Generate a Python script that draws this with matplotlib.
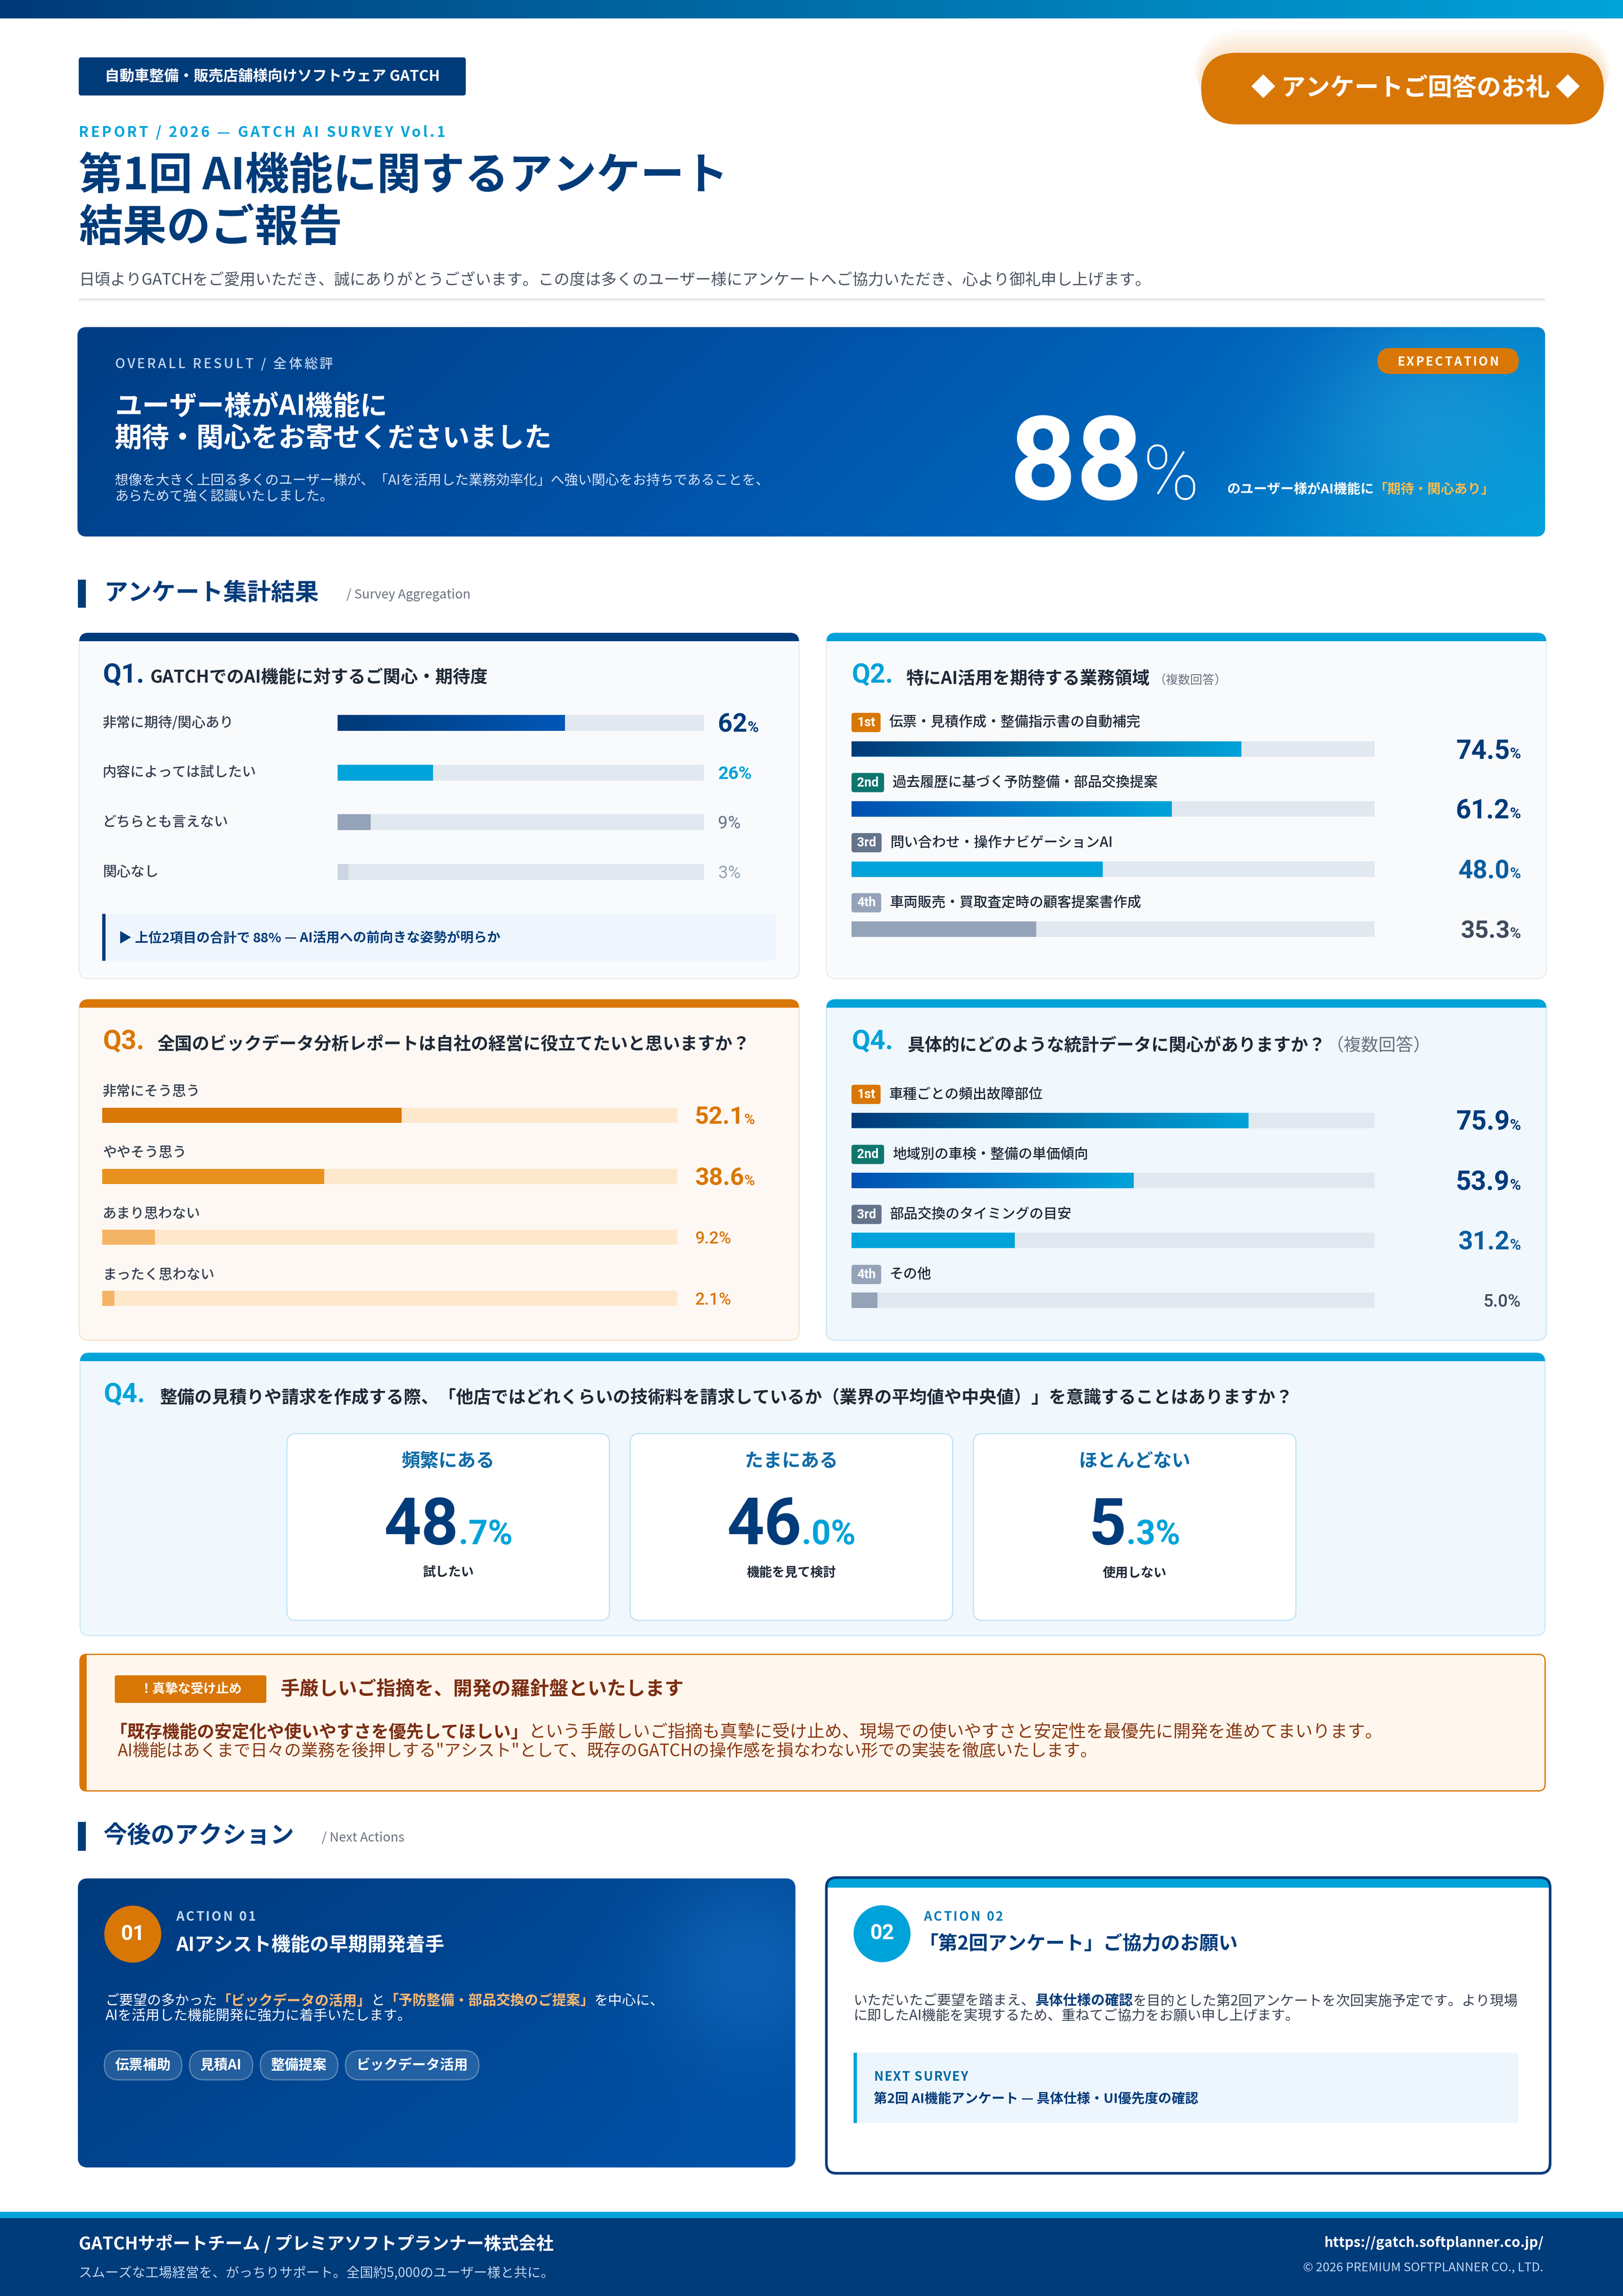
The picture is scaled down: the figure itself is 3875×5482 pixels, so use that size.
import numpy as np
import matplotlib
matplotlib.use('Agg')
import matplotlib.pyplot as plt
from matplotlib.patches import FancyBboxPatch, Rectangle, Circle
from matplotlib.colors import to_rgb
from matplotlib.font_manager import FontProperties

W, H = 3875, 5482
JP = ['Noto Sans CJK JP', 'DejaVu Sans']
NUM = ['Roboto', 'Noto Sans CJK JP', 'DejaVu Sans']
plt.rcParams['font.family'] = JP

NAVY = '#003B7A'
CYAN = '#00A3D9'
ORANGE = '#D97706'
INK = '#1F2937'
GRAY = '#4B5563'

# ---- survey data ----
q1_labels = ['非常に期待/関心あり', '内容によっては試したい', 'どちらとも言えない', '関心なし']
q1_values = [62, 26, 9, 3]
q2_labels = ['伝票・見積作成・整備指示書の自動補完', '過去履歴に基づく予防整備・部品交換提案',
             '問い合わせ・操作ナビゲーションAI', '車両販売・買取査定時の顧客提案書作成']
q2_values = [74.5, 61.2, 48.0, 35.3]
q3_labels = ['非常にそう思う', 'ややそう思う', 'あまり思わない', 'まったく思わない']
q3_values = [52.1, 38.6, 9.2, 2.1]
q4_labels = ['車種ごとの頻出故障部位', '地域別の車検・整備の単価傾向', '部品交換のタイミングの目安', 'その他']
q4_values = [75.9, 53.9, 31.2, 5.0]
q5_labels = ['頻繁にある', 'たまにある', 'ほとんどない']
q5_values = [48.7, 46.0, 5.3]
q5_notes = ['試したい', '機能を見て検討', '使用しない']
rank_labels = ['1st', '2nd', '3rd', '4th']
overall_pct = 88
action_tags = ['伝票補助', '見積AI', '整備提案', 'ビックデータ活用']

fig = plt.figure(figsize=(W / 100, H / 100), dpi=100)
fig.patch.set_facecolor('white')
ax = fig.add_axes([0, 0, 1, 1])
ax.set_xlim(0, W)
ax.set_ylim(H, 0)
ax.axis('off')
R = fig.canvas.get_renderer()


def px(size):
    return size * 100 / 72


def bl(yc, size):
    # baseline for a glyph centred on yc
    return yc + 0.37 * px(size)


def rbox(x0, y0, x1, y1, r, fc, ec='none', lw=0, z=1, alpha=None):
    p = FancyBboxPatch((x0, y0), x1 - x0, y1 - y0, boxstyle=f'round,pad=0,rounding_size={r}',
                       fc=fc, ec=ec, lw=lw, zorder=z, alpha=alpha)
    ax.add_patch(p)
    return p


def hgrad(c0, c1, n=256):
    a, b = np.array(to_rgb(c0)), np.array(to_rgb(c1))
    t = np.linspace(0, 1, n)[:, None]
    return (a + (b - a) * t)[None, :, :]


def gradient(x0, y0, x1, y1, stops, clip=None, z=2, diag=0.0, glow=None):
    nx, ny = 500, 160
    xx = np.linspace(0, 1, nx)[None, :]
    yy = np.linspace(0, 1, ny)[:, None]
    t = np.clip((xx + diag * yy) / (1 + diag), 0, 1)
    pos = [s[0] for s in stops]
    cols = np.array([to_rgb(s[1]) for s in stops])
    img = np.stack([np.interp(t, pos, cols[:, k]) for k in range(3)], axis=-1)
    if glow:
        gx, gy, gr, gc, ga = glow
        asp = (y1 - y0) / (x1 - x0)
        d2 = (xx - gx) ** 2 + ((yy - gy) * asp) ** 2
        a = (ga * np.exp(-d2 / gr ** 2))[..., None]
        img = img * (1 - a) + np.array(to_rgb(gc)) * a
    im = ax.imshow(img, extent=(x0, x1, y1, y0), aspect='auto', zorder=z, interpolation='bilinear')
    if clip is not None:
        im.set_clip_path(clip)
    return im


def T(x, y, s, size, c=INK, w='normal', ha='left', va='center', fam=JP, z=10):
    return ax.text(x, y, s, fontsize=size, color=c, fontweight=w, ha=ha, va=va,
                   family=fam, zorder=z)


def adv(s, size, w='normal', fam=JP):
    try:
        f = R._prepare_font(FontProperties(family=fam, weight=w, size=size))
        return sum(f.load_char(ord(ch)).linearHoriAdvance for ch in s) / 65536
    except Exception:
        t = ax.text(0, 0, s, fontsize=size, fontweight=w, family=fam)
        wd = t.get_window_extent(renderer=R).width
        t.remove()
        return wd


def runs(x, base, parts, ha='left', z=10):
    # parts: (text, size, color, weight, family) or a number meaning extra gap
    widths = [p if isinstance(p, (int, float)) else adv(p[0], p[1], p[3], p[4]) for p in parts]
    total = sum(widths)
    if ha == 'right':
        x -= total
    elif ha == 'center':
        x -= total / 2
    for p, wd in zip(parts, widths):
        if not isinstance(p, (int, float)):
            ax.text(x, base, p[0], fontsize=p[1], color=p[2], fontweight=p[3], family=p[4],
                    ha='left', va='baseline', zorder=z)
        x += wd
    return total


def spaced(x, base, s, size, c, w='bold', sp=4, fam=JP, ha='left', z=10):
    ws = [adv(ch, size, w, fam) + sp for ch in s]
    total = sum(ws) - sp
    if ha == 'center':
        x -= total / 2
    for ch, wd in zip(s, ws):
        if ch != ' ':
            ax.text(x, base, ch, fontsize=size, color=c, fontweight=w, family=fam,
                    ha='left', va='baseline', zorder=z)
        x += wd


def card(x0, y0, x1, y1, bg, border, strip, r=22, sh=20, lw=1.5):
    p = rbox(x0, y0, x1, y1, r, bg, border, lw, z=1)
    s = Rectangle((x0, y0), x1 - x0, sh, fc=strip, ec='none', zorder=1.5)
    ax.add_patch(s)
    s.set_clip_path(p)
    return p


def bar_panel(x0, x1, yc0, step, bh, values, fills, track, grads):
    n = len(values)
    top, bot = yc0 - step / 2, yc0 + step * (n - 1) + step / 2
    bax = fig.add_axes([x0 / W, 1 - bot / H, (x1 - x0) / W, (bot - top) / H])
    bax.axis('off')
    h = bh / step
    idx = np.arange(n)
    bax.barh(idx, [100] * n, height=h, color=track, zorder=1)
    bars = bax.barh(idx, values, height=h, color=fills, zorder=2)
    for i, (b, g) in enumerate(zip(bars, grads)):
        if g:
            im = bax.imshow(hgrad(*g), extent=(0, values[i], i + h / 2, i - h / 2),
                            aspect='auto', zorder=3)
            im.set_clip_path(b)
    bax.set_xlim(0, 100)
    bax.set_ylim(n - 0.5, -0.5)
    return bax


def pct(x, yc, text, dsz, psz, c, w, ha):
    runs(x, yc + 0.36 * px(dsz), [(text, dsz, c, w, NUM), ('%', psz, c, w, NUM)], ha=ha)


# ---- header ----
gradient(0, 0, W, 44, [(0, '#003A78'), (1, CYAN)], z=1)
rbox(188, 137, 1112, 228, 6, NAVY, z=2)
T(650, 182, '自動車整備・販売店舗様向けソフトウェア GATCH', 25.5, 'white', 'bold', ha='center')

for k in range(7):
    rbox(2868 - 3 * k, 126 - 9 * k, 3829 + 3 * k, 290 - 6 * k, 85 + 6 * k, '#F2B36B', z=1.5, alpha=0.05)
rbox(2868, 126, 3829, 297, 85, ORANGE, z=2)
T(3380, 211, '◆ アンケートご回答のお礼 ◆', 42, 'white', 'bold', ha='center')

spaced(188, bl(314, 25), 'REPORT / 2026 — GATCH AI SURVEY Vol.1', 25, CYAN, 'bold', sp=5)
T(188, 421, '第1回 AI機能に関するアンケート', 75.5, NAVY, 'bold')
T(188, 545, '結果のご報告', 75.5, NAVY, 'bold')
T(188, 670, '日頃よりGATCHをご愛用いただき、誠にありがとうございます。この度は多くのユーザー様に'
            'アンケートへご協力いただき、心より御礼申し上げます。', 27, GRAY)
ax.add_patch(Rectangle((188, 712), 3500, 6, fc='#E5E7EB', ec='none', zorder=1))

# ---- overall banner ----
ban = rbox(185, 781, 3689, 1281, 22, NAVY, z=1)
gradient(185, 781, 3689, 1281, [(0, '#003D84'), (0.45, '#0053A8'), (0.75, '#0068BE'), (1, '#00A0DA')],
         clip=ban, z=1.2, diag=0.15, glow=(0.92, 0.45, 0.08, '#3AB4E6', 0.35))
spaced(274, bl(867, 23), 'OVERALL RESULT / 全体総評', 23, '#BFD8F2', 'medium', sp=5)
rbox(3289, 831, 3626, 893, 31, ORANGE, z=3)
spaced(3457, bl(862, 21), 'EXPECTATION', 21, 'white', 'bold', sp=4, ha='center')
T(274, 971, 'ユーザー様がAI機能に', 47, 'white', 'bold')
T(274, 1047, '期待・関心をお寄せくださいました', 47, 'white', 'bold')
T(274, 1149, '想像を大きく上回る多くのユーザー様が、「AIを活用した業務効率化」へ強い関心をお持ちであることを、', 23.5, '#D6E4F5')
T(274, 1187, 'あらためて強く認識いたしました。', 23.5, '#D6E4F5')
runs(2410, 1192, [(f'{overall_pct}', 200, 'white', 'bold', NUM), ('%', 130, 'white', 'light', NUM)])
runs(2930, bl(1166, 23), [('のユーザー様がAI機能に', 23, 'white', 'bold', JP),
                          ('「期待・関心あり」', 23, '#FDBA4D', 'bold', JP)])

# ---- section: aggregation ----
ax.add_patch(Rectangle((186, 1384), 19, 67, fc=NAVY, ec='none', zorder=2))
T(249, 1416, 'アンケート集計結果', 41, NAVY, 'bold')
T(827, 1420, '/ Survey Aggregation', 22, '#6B7280')

# Q1
card(189, 1511, 1908, 2337, '#F8FAFC', '#E2E8F0', NAVY)
T(245, 1612, 'Q1.', 46, NAVY, 'bold', fam=NUM)
T(359, 1618, 'GATCHでのAI機能に対するご関心・期待度', 30, INK, 'bold')
q1_step = 118.7
for i, lab in enumerate(q1_labels):
    T(245, 1726 + i * q1_step, lab, 24, '#374151', 'medium')
bar_panel(806, 1681, 1726, q1_step, 38, q1_values, [NAVY, CYAN, '#94A3B8', '#CBD5E1'], '#E2E8F0',
          [('#003A78', '#0057B7'), None, None, None])
q1_style = [(44, 26, NAVY, 'bold'), (31, 31, CYAN, 'bold'), (30, 30, '#64748B', 'normal'), (30, 30, '#94A3B8', 'normal')]
for i, v in enumerate(q1_values):
    d, p_, c, w = q1_style[i]
    pct(1714, 1726 + i * q1_step, f'{v:.0f}', d, p_, c, w, 'left')
rbox(244, 2182, 1852, 2294, 6, '#EEF5FC', z=2)
ax.add_patch(Rectangle((244, 2182), 8, 112, fc=NAVY, ec='none', zorder=3))
runs(283, bl(2238, 23), [('▶ 上位2項目の合計で ', 23, NAVY, 'bold', JP),
                         (f'{sum(q1_values[:2])}%', 23, NAVY, 'bold', JP),
                         (' — AI活用への前向きな姿勢が明らか', 23, NAVY, 'bold', JP)])

rank_colors = [ORANGE, '#0F766E', '#64748B', '#94A3B8']


def ranked(x0, badge_y0, bar_y0, step, labels, values, fills, grads, styles):
    for i, lab in enumerate(labels):
        yc = badge_y0 + i * step
        bw = adv(rank_labels[i], 22, 'bold', NUM) + 26
        rbox(x0, yc - 23, x0 + bw, yc + 23, 6, rank_colors[i], z=2)
        T(x0 + bw / 2, yc, rank_labels[i], 22, 'white', 'bold', ha='center', fam=NUM)
        T(x0 + bw + 20, yc, lab, 24, INK, 'medium')
    bar_panel(x0, 3282, bar_y0, step, 37, values, fills, '#E2E8F0', grads)
    for i, v in enumerate(values):
        d, p_, c, w = styles[i]
        pct(3631, bar_y0 + i * step, f'{v:.1f}', d, p_, c, w, 'right')


# Q2
card(1973, 1511, 3692, 2337, '#F8FAFC', '#E2E8F0', CYAN)
T(2033, 1612, 'Q2.', 46, CYAN, 'bold', fam=NUM)
runs(2163, bl(1618, 30), [('特にAI活用を期待する業務領域', 30, INK, 'bold', JP), 10,
                          ('（複数回答）', 21, '#6B7280', 'normal', JP)])
ranked(2033, 1725, 1788, 143.5, q2_labels, q2_values, [CYAN, CYAN, CYAN, '#94A3B8'],
       [('#003A78', CYAN), ('#0050B0', CYAN), None, None],
       [(46, 26, NAVY, 'bold'), (46, 26, NAVY, 'bold'), (44, 26, '#0B5E9E', 'bold'), (42, 26, '#3F4B5E', 'bold')])

# Q3
card(189, 2386, 1908, 3200, '#FDF8F3', '#F6DDBF', ORANGE)
T(245, 2487, 'Q3.', 46, ORANGE, 'bold', fam=NUM)
T(375, 2494, '全国のビックデータ分析レポートは自社の経営に役立てたいと思いますか？', 30, INK, 'bold')
q3_step = 145.7
for i, lab in enumerate(q3_labels):
    T(245, 2607 + i * q3_step, lab, 24, '#374151', 'medium')
bar_panel(244, 1617, 2663, q3_step, 36, q3_values, [ORANGE, '#E8911F', '#F4B466', '#F4B466'], '#FDE8CC',
          [None] * 4)
q3_style = [(42, 25, ORANGE, 'bold'), (42, 25, ORANGE, 'bold'), (29, 29, ORANGE, 'medium'), (29, 29, ORANGE, 'medium')]
for i, v in enumerate(q3_values):
    d, p_, c, w = q3_style[i]
    pct(1659, 2663 + i * q3_step, f'{v:.1f}', d, p_, c, w, 'left')

# Q4
card(1973, 2386, 3692, 3200, '#F0F7FD', '#BFE3F5', CYAN)
T(2033, 2487, 'Q4.', 46, CYAN, 'bold', fam=NUM)
runs(2166, bl(2494, 30), [('具体的にどのような統計データに関心がありますか？', 30, INK, 'bold', JP),
                          ('（複数回答）', 30, '#6B7280', 'normal', JP)])
ranked(2033, 2613, 2675, 143.3, q4_labels, q4_values, [CYAN, CYAN, CYAN, '#94A3B8'],
       [('#003A78', CYAN), ('#0050B0', CYAN), None, None],
       [(46, 26, NAVY, 'bold'), (46, 26, NAVY, 'bold'), (44, 26, '#0B5E9E', 'bold'), (30, 30, '#3F4B5E', 'medium')])

# Q4 (benchmark awareness)
card(191, 3230, 3689, 3905, '#F0F7FD', '#BFE3F5', CYAN)
T(247, 3330, 'Q4.', 46, CYAN, 'bold', fam=NUM)
T(382, 3339, '整備の見積りや請求を作成する際、「他店ではどれくらいの技術料を請求しているか'
             '（業界の平均値や中央値）」を意識することはありますか？', 30, INK, 'bold')
for i, (lab, v, note) in enumerate(zip(q5_labels, q5_values, q5_notes)):
    x0 = 685 + i * 819.5
    rbox(x0, 3423, x0 + 770, 3869, 22, 'white', '#BFE3F5', lw=2, z=2)
    cx = x0 + 385
    T(cx, 3489, lab, 32, '#0E6BA8', 'bold', ha='center')
    ip, dp = f'{v:.1f}'.split('.')
    runs(cx, 3687, [(ip, 112, NAVY, 'bold', NUM), ('.' + dp + '%', 58, CYAN, 'bold', NUM)], ha='center')
    T(cx, 3755, note, 22, INK, 'bold', ha='center')

# notice
nb = rbox(191, 3950, 3689, 4276, 16, '#FFF7ED', ORANGE, lw=2.2, z=1)
lb = Rectangle((191, 3950), 16, 326, fc=ORANGE, ec='none', zorder=1.5)
ax.add_patch(lb)
lb.set_clip_path(nb)
rbox(274, 4000, 636, 4066, 5, ORANGE, z=2)
T(455, 4033, '！真摯な受け止め', 22, 'white', 'bold', ha='center')
T(669, 4033, '手厳しいご指摘を、開発の羅針盤といたします', 33, '#7C2D12', 'bold')
runs(262, bl(4133, 30), [('「既存機能の安定化や使いやすさを優先してほしい」', 30, '#7C2D12', 'bold', JP),
                         ('という手厳しいご指摘も真摯に受け止め、現場での使いやすさと安定性を最優先に開発を進めてまいります。',
                          30, '#8A3A14', 'normal', JP)])
T(281, 4182, 'AI機能はあくまで日々の業務を後押しする"アシスト"として、既存のGATCHの操作感を損なわない形での実装を徹底いたします。',
  29, '#8A3A14')

# ---- section: next actions ----
ax.add_patch(Rectangle((186, 4350), 19, 69, fc=NAVY, ec='none', zorder=2))
T(247, 4384, '今後のアクション', 41, NAVY, 'bold')
T(768, 4388, '/ Next Actions', 22, '#6B7280')

a1 = rbox(186, 4485, 1899, 5175, 24, NAVY, z=1)
gradient(186, 4485, 1899, 5175, [(0, '#003B7E'), (1, '#0053AA')], clip=a1, z=1.2, diag=0.6,
         glow=(0.93, 0.3, 0.13, '#1B78CC', 0.45))
ax.add_patch(Circle((317, 4618), 68, fc=ORANGE, ec='none', zorder=3))
T(317, 4618, '01', 36, 'white', 'bold', ha='center', fam=NUM)
spaced(420, bl(4575, 22), 'ACTION 01', 22, '#BFD8F2', 'bold', sp=4)
T(420, 4644, 'AIアシスト機能の早期開発着手', 33, 'white', 'bold')
runs(252, bl(4775, 24), [('ご要望の多かった', 24, 'white', 'normal', JP),
                         ('「ビックデータの活用」', 24, '#FDBA74', 'bold', JP),
                         ('と', 24, 'white', 'normal', JP),
                         ('「予防整備・部品交換のご提案」', 24, '#FDBA74', 'bold', JP),
                         ('を中心に、', 24, 'white', 'normal', JP)])
T(252, 4814, 'AIを活用した機能開発に強力に着手いたします。', 24, 'white')
tx = 249
for tag in action_tags:
    tw = adv(tag, 24, 'bold') + 52
    rbox(tx, 4896, tx + tw, 4966, 35, (1, 1, 1, 0.14), (1, 1, 1, 0.32), lw=2, z=3)
    T(tx + tw / 2, 4931, tag, 24, 'white', 'bold', ha='center')
    tx += tw + 18

a2 = rbox(1973, 4483, 3701, 5189, 24, 'white', z=1)
st = Rectangle((1973, 4483), 1728, 24, fc=CYAN, ec='none', zorder=1.5)
ax.add_patch(st)
st.set_clip_path(a2)
rbox(1973, 4483, 3701, 5189, 24, 'none', NAVY, lw=4.5, z=1.6)
ax.add_patch(Circle((2106, 4617), 68, fc=CYAN, ec='none', zorder=3))
T(2106, 4617, '02', 36, 'white', 'bold', ha='center', fam=NUM)
spaced(2205, bl(4575, 22), 'ACTION 02', 22, '#0B7BB8', 'bold', sp=4)
T(2195, 4641, '「第2回アンケート」ご協力のお願い', 33, NAVY, 'bold')
runs(2038, bl(4775, 24), [('いただいたご要望を踏まえ、', 24, '#374151', 'normal', JP),
                          ('具体仕様の確認', 24, NAVY, 'bold', JP),
                          ('を目的とした第2回アンケートを次回実施予定です。より現場', 24, '#374151', 'normal', JP)])
T(2038, 4813, 'に即したAI機能を実現するため、重ねてご協力をお願い申し上げます。', 24, '#374151')
rbox(2038, 4901, 3625, 5069, 6, '#EEF6FD', z=2)
ax.add_patch(Rectangle((2038, 4901), 8, 168, fc=CYAN, ec='none', zorder=3))
spaced(2086, bl(4957, 22), 'NEXT SURVEY', 22, '#0369A1', 'bold', sp=2)
T(2086, 5012, '第2回 AI機能アンケート — 具体仕様・UI優先度の確認', 23, NAVY, 'bold')

# ---- footer ----
ax.add_patch(Rectangle((0, 5281), W, 15, fc=CYAN, ec='none', zorder=1))
ax.add_patch(Rectangle((0, 5296), W, 186, fc=NAVY, ec='none', zorder=1))
T(188, 5357, 'GATCHサポートチーム / プレミアソフトプランナー株式会社', 30, 'white', 'bold')
T(188, 5427, 'スムーズな工場経営を、がっちりサポート。全国約5,000のユーザー様と共に。', 23, '#BFD8F2')
T(3685, 5355, 'https://gatch.softplanner.co.jp/', 24, 'white', 'bold', ha='right')
T(3685, 5415, '© 2026 PREMIUM SOFTPLANNER CO., LTD.', 21, '#BFD8F2', ha='right')

ax.set_xlim(0, W)
ax.set_ylim(H, 0)
fig.savefig('out.png', dpi=100, facecolor='white')
